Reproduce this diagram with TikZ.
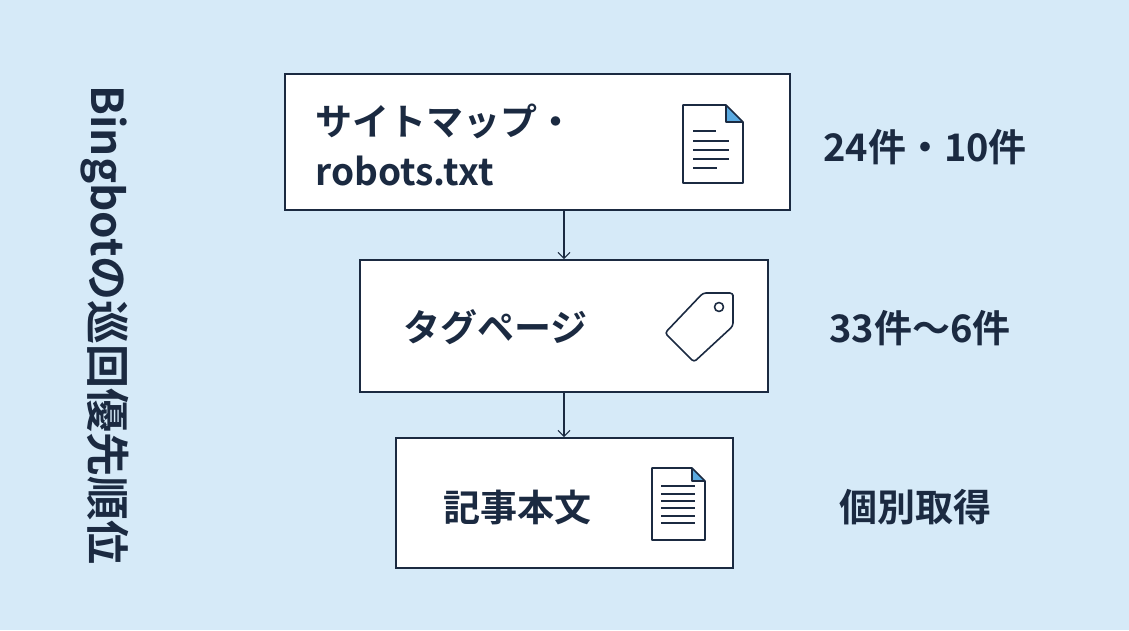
\documentclass[tikz,border=0pt]{standalone}
\usepackage{fontspec}
\setmainfont{Noto Sans CJK JP}[BoldFont={* Bold}]
\usetikzlibrary{arrows.meta}
\definecolor{navy}{RGB}{27,42,65}
\definecolor{bgBlue}{RGB}{214,234,248}
\definecolor{dogEar}{RGB}{90,170,225}
\tikzset{
  stage/.style={draw=navy,line width=1.6pt,fill=white,inner sep=0pt},
  lbl/.style={text=navy,font=\bfseries\fontsize{37}{50}\selectfont},
  count/.style={lbl,font=\bfseries\fontsize{38}{50}\selectfont},
  flow/.style={draw=navy,line width=1.2pt,-{Straight Barb[length=6pt,width=12pt]}},
  icon/.style={draw=navy,line width=1.6pt,line join=round}
}
\newcommand{\docicon}[6]{% x0,y0,x1,y1,fold,lines
  \fill[white] (#1,#2) -- (#3-#5,#2) -- (#3,#2+#5) -- (#3,#4) -- (#1,#4) -- cycle;
  \fill[dogEar] (#3-#5,#2) -- (#3,#2+#5) -- (#3-#5,#2+#5) -- cycle;
  \draw[icon] (#1,#2) -- (#3-#5,#2) -- (#3,#2+#5) -- (#3,#4) -- (#1,#4) -- cycle;
  \draw[icon] (#3-#5,#2) -- (#3-#5,#2+#5) -- (#3,#2+#5);
  #6}
\begin{document}
\begin{tikzpicture}[x=1pt,y=-1pt]
\fill[bgBlue] (0,0) rectangle (1129,630);
\useasboundingbox (0,0) rectangle (1129,630);
% vertical title
\node[lbl,font=\bfseries\fontsize{44}{50}\selectfont,rotate=-90] (title) at (105,325) {Bingbotの巡回優先順位};
% stages
\node[stage,minimum width=505pt,minimum height=136pt] (box1) at (537.5,142) {};
\node[stage,minimum width=408pt,minimum height=132pt] (box2) at (564,326) {};
\node[stage,minimum width=337pt,minimum height=130pt] (box3) at (564.5,503) {};
\draw[flow] (box2.north |- box1.south) -- (box2.north);
\draw[flow] (box2.south) -- (box2.south |- box3.north);
\node[lbl,anchor=west,align=left] (sitemap) at (312,145) {サイトマップ・\\robots.txt};
\node[lbl,anchor=west] (tags) at (400,327) {タグページ};
\node[lbl,anchor=west] (body) at (440,507) {記事本文};
% icons
\docicon{683}{105}{743}{183}{17}{\foreach \y/\l in {131/23,141/36,150/36,159/36,168/24}
  \draw[navy,line width=1.4pt] (693,\y) -- ++(\l,0);}
\docicon{652}{468}{705}{540}{13}{\foreach \y in {486,494,501,508,516,523}
  \draw[navy,line width=1.4pt] (661,\y) -- ++(34,0);}
\draw[icon,rounded corners=3pt] (733,298) -- (733,326) -- (694,362) -- (665,333) -- (703,293) -- (733,293) -- cycle;
\draw[icon] (719,307) circle (4.5);
% counts
\node[count] (n1) at (925,147) {24件・10件};
\node[count] (n2) at (920,328) {33件〜6件};
\node[count] (n3) at (915,507) {個別取得};
\end{tikzpicture}
\end{document}
